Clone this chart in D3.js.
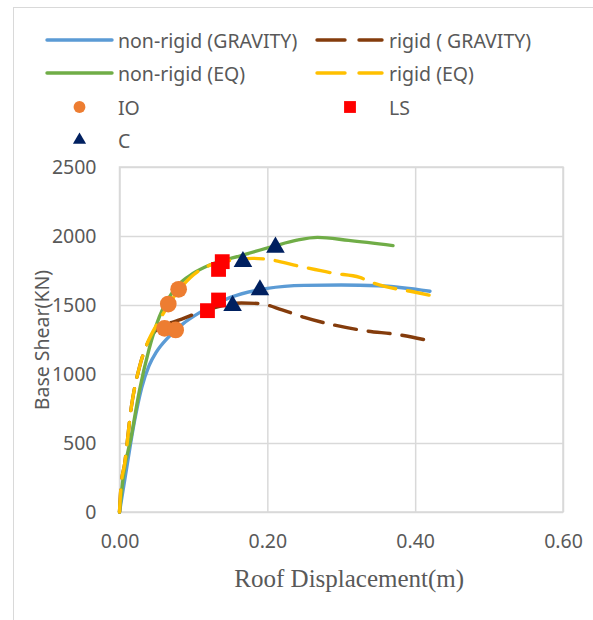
<!DOCTYPE html>
<html>
<head>
<meta charset="utf-8">
<script src="https://cdn.jsdelivr.net/npm/d3@7"></script>
<style>
  body { margin: 0; background: #fff; }
  svg { display: block; }
  .tick text { font-family: "Noto Sans", sans-serif; fill: #595959; }
</style>
</head>
<body>
<svg id="chart" width="593" height="620"></svg>
<script>
// series: roof displacement (m) vs base shear (kN)
const nonRigidGravityX = [0, 0.01, 0.02, 0.03, 0.04, 0.05, 0.065, 0.085, 0.11, 0.15, 0.2, 0.25, 0.3, 0.35, 0.42];
const nonRigidGravityY = [0, 330, 650, 900, 1060, 1160, 1260, 1360, 1450, 1555, 1620, 1642, 1645, 1640, 1600];

const rigidGravityX = [0, 0.002, 0.007, 0.016, 0.027, 0.036, 0.045, 0.06, 0.08, 0.11, 0.14, 0.165, 0.19, 0.22, 0.25, 0.29, 0.33, 0.38, 0.42];
const rigidGravityY = [0, 180, 350, 760, 1050, 1200, 1290, 1350, 1390, 1450, 1495, 1515, 1510, 1465, 1410, 1355, 1315, 1283, 1240];

const nonRigidEqX = [0, 0.005, 0.016, 0.027, 0.04, 0.054, 0.077, 0.1, 0.122, 0.167, 0.208, 0.24, 0.268, 0.31, 0.37];
const nonRigidEqY = [0, 250, 550, 880, 1180, 1415, 1630, 1730, 1790, 1862, 1925, 1970, 1990, 1968, 1930];

const rigidEqX = [0, 0.002, 0.007, 0.016, 0.027, 0.036, 0.054, 0.077, 0.108, 0.153, 0.18, 0.2, 0.244, 0.29, 0.325, 0.343, 0.36, 0.397, 0.42];
const rigidEqY = [0, 180, 350, 760, 1050, 1200, 1390, 1585, 1750, 1826, 1838, 1831, 1780, 1730, 1700, 1660, 1633, 1596, 1570];

// performance points
const ioX = [0.080, 0.066, 0.061, 0.076];
const ioY = [1614, 1507, 1331, 1319];
const lsX = [0.139, 0.134, 0.134, 0.119];
const lsY = [1814, 1758, 1536, 1459];
const cX = [0.167, 0.211, 0.190, 0.153];
const cY = [1814, 1918, 1609, 1495];

const xTicks = [0, 0.2, 0.4, 0.6];
const yTicks = [0, 500, 1000, 1500, 2000, 2500];

const zip = (xs, ys) => xs.map((x, i) => ({ x, y: ys[i] }));

const lines = [
  { name: "non-rigid (GRAVITY)", pts: zip(nonRigidGravityX, nonRigidGravityY), color: "#5B9BD5", dash: null },
  { name: "rigid ( GRAVITY)", pts: zip(rigidGravityX, rigidGravityY), color: "#843C0C", dash: "22 12" },
  { name: "non-rigid (EQ)", pts: zip(nonRigidEqX, nonRigidEqY), color: "#70AD47", dash: null },
  { name: "rigid (EQ)", pts: zip(rigidEqX, rigidEqY), color: "#FFC000", dash: "22 12" },
];

const markers = [
  { name: "IO", pts: zip(ioX, ioY), color: "#ED7D31", symbol: d3.symbolCircle, size: 220, legendSize: 110 },
  { name: "LS", pts: zip(lsX, lsY), color: "#FF0000", symbol: d3.symbolSquare, size: 220, legendSize: 140 },
  { name: "C", pts: zip(cX, cY), color: "#002060", symbol: d3.symbolTriangle, size: 150, legendSize: 75 },
];

const svg = d3.select("#chart");
const margin = { left: 119.5, right: 30, top: 167, bottom: 108 };
const width = 593 - margin.left - margin.right;
const height = 620 - margin.top - margin.bottom;

// outer chart frame
svg.append("rect")
  .attr("x", 13.5).attr("y", 7.5)
  .attr("width", 600).attr("height", 640)
  .attr("fill", "none").attr("stroke", "#D9D9D9");

const x = d3.scaleLinear().domain([0, 0.6]).range([0, width]);
const y = d3.scaleLinear().domain([0, 2500]).range([height, 0]);

const g = svg.append("g").attr("transform", `translate(${margin.left},${margin.top})`);

// grid
g.append("g")
  .attr("transform", `translate(0,${height})`)
  .call(d3.axisBottom(x).tickValues(xTicks).tickSize(-height).tickFormat(d3.format(".2f")).tickPadding(22))
  .call((ax) => ax.select(".domain").remove())
  .call((ax) => ax.selectAll("line").attr("stroke", "#D9D9D9").attr("stroke-width", 1.5))
  .call((ax) => ax.selectAll("text").attr("font-size", 19.5));

g.append("g")
  .call(d3.axisLeft(y).tickValues(yTicks).tickSize(-width).tickFormat(d3.format("d")).tickPadding(23))
  .call((ax) => ax.select(".domain").remove())
  .call((ax) => ax.selectAll("line").attr("stroke", "#D9D9D9").attr("stroke-width", 1.5))
  .call((ax) => ax.selectAll("text").attr("font-size", 19.5));

g.append("rect")
  .attr("width", width).attr("height", height)
  .attr("fill", "none").attr("stroke", "#D9D9D9").attr("stroke-width", 1.5);

const line = d3.line()
  .x((d) => x(d.x))
  .y((d) => y(d.y))
  .curve(d3.curveMonotoneX);

lines.forEach((s) => {
  g.append("path")
    .datum(s.pts)
    .attr("d", line)
    .attr("fill", "none")
    .attr("stroke", s.color)
    .attr("stroke-width", 3.4)
    .attr("stroke-linecap", "round")
    .attr("stroke-dasharray", s.dash);
});

markers.forEach((m) => {
  g.append("g")
    .selectAll("path")
    .data(m.pts)
    .join("path")
    .attr("transform", (d) => `translate(${x(d.x)},${y(d.y)})`)
    .attr("d", d3.symbol().type(m.symbol).size(m.size))
    .attr("fill", m.color);
});

// axis titles
svg.append("text")
  .attr("x", margin.left + width / 2 + 8)
  .attr("y", 587)
  .attr("text-anchor", "middle")
  .attr("font-family", "'Liberation Serif', 'Times New Roman', serif")
  .attr("font-size", 25)
  .attr("fill", "#595959")
  .text("Roof Displacement(m)");

svg.append("text")
  .attr("transform", "translate(44,340) rotate(-90)")
  .attr("text-anchor", "middle")
  .attr("dominant-baseline", "middle")
  .attr("font-family", "'Noto Sans', sans-serif")
  .attr("font-size", 19.5)
  .attr("fill", "#595959")
  .text("Base Shear(KN)");

// legend
const legend = svg.append("g")
  .attr("font-family", "'Noto Sans', sans-serif")
  .attr("font-size", 19.5)
  .attr("fill", "#595959");

const colX = [47, 317];
const textX = [118, 389];
const rowY = [40, 73, 107, 140];

lines.forEach((s, i) => {
  const col = i % 2;
  const row = Math.floor(i / 2);
  const x0 = colX[col];
  const x1 = col === 0 ? 112 : 382;
  const ly = rowY[row];
  if (s.dash) {
    legend.append("line").attr("x1", x0).attr("x2", x0 + 28).attr("y1", ly).attr("y2", ly)
      .attr("stroke", s.color).attr("stroke-width", 3.4).attr("stroke-linecap", "round");
    legend.append("line").attr("x1", x0 + 42).attr("x2", x1).attr("y1", ly).attr("y2", ly)
      .attr("stroke", s.color).attr("stroke-width", 3.4).attr("stroke-linecap", "round");
  } else {
    legend.append("line").attr("x1", x0).attr("x2", x1).attr("y1", ly).attr("y2", ly)
      .attr("stroke", s.color).attr("stroke-width", 3.4).attr("stroke-linecap", "round");
  }
  legend.append("text").attr("x", textX[col]).attr("y", ly).attr("dominant-baseline", "central").text(s.name);
});

const markerX = [79.5, 350];
markers.forEach((m, i) => {
  const col = i % 2;
  const row = 2 + Math.floor(i / 2);
  const ly = rowY[row];
  legend.append("path")
    .attr("transform", `translate(${markerX[col]},${ly})`)
    .attr("d", d3.symbol().type(m.symbol).size(m.legendSize))
    .attr("fill", m.color);
  legend.append("text").attr("x", textX[col]).attr("y", ly).attr("dominant-baseline", "central").text(m.name);
});
</script>
</body>
</html>
